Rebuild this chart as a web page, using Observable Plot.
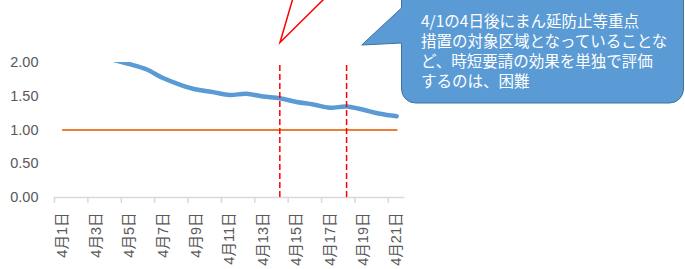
<!DOCTYPE html>
<html>
<head>
<meta charset="utf-8">
<script src="https://cdn.jsdelivr.net/npm/d3@7"></script>
<script src="https://cdn.jsdelivr.net/npm/@observablehq/plot@0.6"></script>
<style>
  html, body { margin: 0; padding: 0; background: #fff; }
  #chart { width: 685px; height: 269px; overflow: hidden; position: relative; }
</style>
</head>
<body>
<div id="chart"></div>
<script>
// ---- data ----
const days = [1,2,3,4,5,6,7,8,9,10,11,12,13,14,15,16,17,18,19,20,21];
const rt = [2.30, 2.20, 2.10, 2.04, 1.975, 1.90, 1.77, 1.674, 1.60, 1.561, 1.52, 1.536, 1.496, 1.47, 1.415, 1.378, 1.33, 1.348, 1.30, 1.24, 1.204];
const threshold = [1,1,1,1,1,1,1,1,1,1,1,1,1,1,1,1,1,1,1,1,1];
const labelDays = [1,3,5,7,9,11,13,15,17,19,21];
const markerDays = [14, 18];
const yTicks = [0, 0.5, 1, 1.5, 2];
const calloutLines = [
  "4/1の4日後にまん延防止等重点",
  "措置の対象区域となっていることな",
  "ど、時短要請の効果を単独で評価",
  "するのは、困難"
];

const series = days.map((d, i) => ({day: d, rt: rt[i], th: threshold[i]}));
// category boundaries for tick marks (every 2 categories)
const boundaries = d3.range(0, 21, 2).map(i => days[i] - 0.5);

const plot = Plot.plot({
  width: 685,
  height: 269,
  marginLeft: 54,
  marginRight: 280.5,
  marginTop: 62,
  marginBottom: 72,
  style: {
    fontFamily: "'Liberation Sans','Noto Sans CJK JP',sans-serif",
    fontSize: "14.5px",
    color: "#595959",
    background: "white"
  },
  x: {type: "linear", domain: [days[0] - 0.5, days[days.length - 1] + 0.5]},
  y: {domain: [0, 2]},
  marks: [
    Plot.axisY({ticks: yTicks, tickFormat: d => d.toFixed(2), tickSize: 0, tickPadding: 16, fontSize: 14.5, fill: "#595959", label: null}),
    Plot.ruleY([0], {stroke: "#d9d9d9", strokeWidth: 1.5}),
    Plot.axisX({ticks: boundaries, tickSize: 6, tickFormat: () => "", stroke: "#d9d9d9", strokeWidth: 1.5, label: null}),
    Plot.text(labelDays, {
      x: d => d, text: d => `4月${d}日`, frameAnchor: "bottom",
      rotate: -90, textAnchor: "end", lineAnchor: "middle", dy: 15,
      fill: "#595959", fontSize: 14.5
    }),
    Plot.line(series, {x: "day", y: "th", stroke: "#ED7D31", strokeWidth: 2}),
    Plot.line(series, {x: "day", y: "rt", stroke: "#5B9BD5", strokeWidth: 4.5, curve: "catmull-rom", clip: true, strokeLinecap: "round", strokeLinejoin: "round"}),
    Plot.ruleX(markerDays, {x: d => d, y1: 0, y2: 2, stroke: "#FF0000", strokeWidth: 1.5, strokeDasharray: "6,3"})
  ]
});

document.getElementById("chart").appendChild(plot);

// ---- annotations (callouts) ----
const svg = d3.select(plot);
const ann = svg.append("g");

// red callout pointer (shape above the visible area)
ann.append("path")
  .attr("d", "M293,-2 L280,42.5 L325,-2")
  .attr("fill", "none")
  .attr("stroke", "#FF0000")
  .attr("stroke-width", 1.5);

// blue rounded-rect callout with wedge
ann.append("path")
  .attr("d", "M401.5,-30 L401.5,8 L361.7,45 L401.5,43 L401.5,89 A14,14 0 0 0 415.5,103 L669.5,103 A14,14 0 0 0 683.5,89 L683.5,-30 Z")
  .attr("fill", "#5B9BD5")
  .attr("stroke", "#41719C")
  .attr("stroke-width", 1);

const t = ann.append("text")
  .attr("fill", "white")
  .attr("text-anchor", "start")
  .attr("font-family", "'Noto Sans CJK JP',sans-serif")
  .attr("font-size", 15.5);
calloutLines.forEach((line, i) => {
  t.append("tspan").attr("x", 421).attr("y", 26.5 + i * 20.2).text(line);
});
</script>
</body>
</html>
